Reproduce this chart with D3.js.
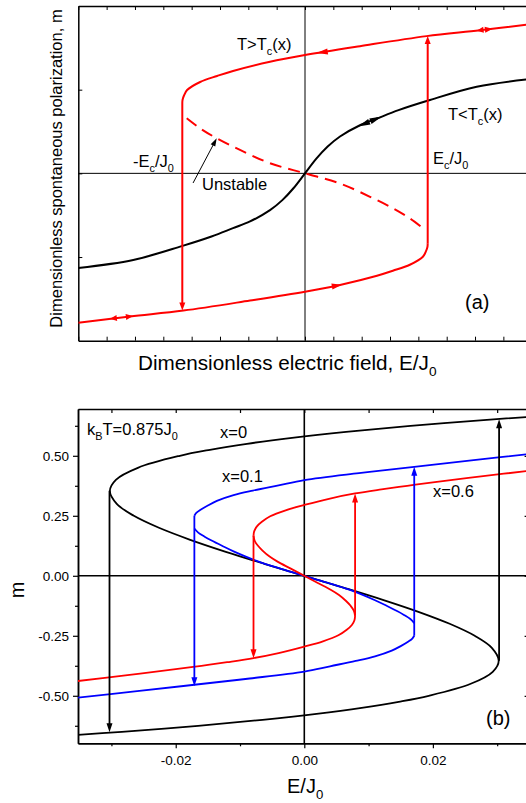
<!DOCTYPE html>
<html><head><meta charset="utf-8">
<script src="https://cdn.jsdelivr.net/npm/d3@7"></script>
<style>
body{margin:0;background:#fff}
svg{display:block;font-family:Arial,"Liberation Sans",Helvetica,sans-serif}
</style>
</head><body>
<svg id="c" width="526" height="803"></svg>
<script>
// ---------- Panel (a): dimensionless units (no numeric tick labels) ----------
const aTicksE = [-8,-7,-6,-5,-4,-3,-2,-1,0,1,2,3,4,5,6,7,8];
const aTicksM = [-1,0,1];
// T>Tc(x) hysteresis, upper stable branch
const aUpperE = [-4.33,-4.32,-4.27,-4.16,-3.70,-3.10,-2.54,-1.235,0,1.94,4.29,6.175,8.0];
const aUpperM = [0.84,0.88,0.93,0.996,1.092,1.164,1.224,1.334,1.414,1.52,1.64,1.71,1.785];
// lower stable branch
const aLowerE = [-8.0,-6.175,-4.29,-1.94,0,1.235,2.54,3.10,3.70,4.16,4.27,4.32,4.33];
const aLowerM = [-1.785,-1.71,-1.64,-1.52,-1.414,-1.334,-1.224,-1.164,-1.092,-0.996,-0.93,-0.88,-0.84];
// unstable (dashed) branch
const aUnstE = [-4.174,-3.705,-3.116,-2.294,-1.235,0,1.235,2.294,3.116,3.705,4.174];
const aUnstM = [0.658,0.539,0.419,0.280,0.121,0,-0.121,-0.280,-0.419,-0.539,-0.658];
// T<Tc(x) single-valued curve
const aBlackE = [-8,-6.06,-4.35,-3.3,-2.54,-1.94,-1.235,-0.8,-0.4,0,0.4,0.8,1.235,1.94,2.54,3.3,4.35,6.06,8];
const aBlackM = [-1.13,-1.035,-0.87,-0.755,-0.655,-0.575,-0.44,-0.32,-0.175,0,0.175,0.32,0.44,0.575,0.655,0.755,0.87,1.035,1.13];
// jump arrows (E, from m, to m)
const aJumps = [[-4.33, 0.84, -1.64], [4.33, -0.84, 1.64]];
// arrowheads on curves: [tailE, tailM, tipE, tipM, colour]
const aHeads = [
  [0.80, 1.457, 0.41, 1.437, "red"],
  [6.30, 1.715, 6.06, 1.705, "red"],
  [6.35, 1.717, 6.62, 1.728, "red"],
  [0.95, -1.352, 1.30, -1.33, "red"],
  [-6.64, -1.728, -6.88, -1.738, "red"],
  [-6.32, -1.716, -6.07, -1.706, "red"],
  [2.27, 0.617, 1.88, 0.56, "black"],
  [2.31, 0.622, 2.71, 0.678, "black"]
];
const aPointer = [-3.95, -0.115, -3.116, 0.419];

// ---------- Panel (b): kBT = 0.875 J0 ----------
const bTicksMajX = [-0.02, 0, 0.02];
const bTicksMinX = [-0.03, -0.01, 0.01, 0.03];
const bTickLabX = ["-0.02", "0.00", "0.02"];
const bTicksMajY = [-0.5, -0.25, 0, 0.25, 0.5];
const bTicksMinY = [-0.625, -0.375, -0.125, 0.125, 0.375, 0.625];
const bTickLabY = ["-0.50", "-0.25", "0.00", "0.25", "0.50"];
// x = 0 (black) full S-curve [E, m]
const bBlack = [[-0.0365,-0.665],[-0.02839,-0.65],[-0.01652,-0.625],[-0.0065,-0.6],[0.00191,-0.575],[0.00892,-0.55],[0.01468,-0.525],[0.01936,-0.5],[0.02589,-0.45],[0.02931,-0.4],[0.03024,-0.3536],[0.02917,-0.3],[0.02651,-0.25],[0.02261,-0.2],[0.01775,-0.15],[0.01221,-0.1],[0.00621,-0.05],[0,0],[-0.00621,0.05],[-0.01221,0.1],[-0.01775,0.15],[-0.02261,0.2],[-0.02651,0.25],[-0.02917,0.3],[-0.03024,0.3536],[-0.02931,0.4],[-0.02589,0.45],[-0.01936,0.5],[-0.01468,0.525],[-0.00892,0.55],[-0.00191,0.575],[0.0065,0.6],[0.01652,0.625],[0.02839,0.65],[0.0365,0.665]];
// x = 0.1 (blue)
const bBlueUpper = [[-0.0171,0.25],[-0.0168,0.262],[-0.0162,0.274],[-0.0150,0.293],[-0.0136,0.312],[-0.0110,0.336],[-0.0080,0.355],[-0.0040,0.377],[0,0.399],[0.0085,0.428],[0.0171,0.454],[0.0260,0.481],[0.0360,0.510]];
const bBlueMid = [[-0.0171,0.197],[-0.0165,0.18],[-0.0155,0.163],[-0.0145,0.148],[-0.0128,0.125],[-0.0110,0.102],[-0.0070,0.058],[-0.0035,0.028],[0,0],[0.0035,-0.028],[0.0070,-0.058],[0.0110,-0.102],[0.0128,-0.125],[0.0145,-0.148],[0.0155,-0.163],[0.0165,-0.18],[0.0171,-0.197]];
const bBlueLower = [[-0.0360,-0.510],[-0.0260,-0.481],[-0.0171,-0.454],[-0.0085,-0.428],[0,-0.399],[0.0040,-0.377],[0.0080,-0.355],[0.0110,-0.336],[0.0136,-0.312],[0.0150,-0.293],[0.0162,-0.274],[0.0168,-0.262],[0.0171,-0.25]];
// x = 0.6 (red)
const bRedUpper = [[-0.0079,0.167],[-0.0078,0.185],[-0.0074,0.205],[-0.0066,0.225],[-0.0053,0.248],[-0.0029,0.273],[0,0.295],[0.0040,0.322],[0.0079,0.343],[0.0120,0.360],[0.0160,0.375],[0.0200,0.389],[0.0275,0.414],[0.0360,0.441]];
const bRedMid = [[-0.0079,0.167],[-0.0077,0.145],[-0.0072,0.125],[-0.0065,0.105],[-0.0054,0.08],[-0.0041,0.058],[-0.0021,0.03],[0,0],[0.0021,-0.03],[0.0041,-0.058],[0.0054,-0.08],[0.0065,-0.105],[0.0072,-0.125],[0.0077,-0.145],[0.0079,-0.167]];
const bRedLower = [[-0.0360,-0.441],[-0.0275,-0.414],[-0.0200,-0.389],[-0.0160,-0.375],[-0.0120,-0.360],[-0.0079,-0.343],[-0.0040,-0.322],[0,-0.295],[0.0029,-0.273],[0.0053,-0.248],[0.0066,-0.225],[0.0074,-0.205],[0.0078,-0.185],[0.0079,-0.167]];
// jump arrows: [E, from m, to m, colour]
const bJumps = [
  [-0.0303, 0.354, -0.652, "black"],
  [-0.0171, 0.25, -0.46, "blue"],
  [-0.0079, 0.167, -0.344, "red"],
  [0.0079, -0.167, 0.343, "red"],
  [0.0171, -0.25, 0.454, "blue"],
  [0.0303, -0.354, 0.652, "black"]
];

const RED = "#ff0000", BLUE = "#0000ff";
const col = c => c === "red" ? RED : c === "blue" ? BLUE : "#000";
const svg = d3.select("#c");
const defs = svg.append("defs");

function head(g, tip, from, L, w, color) {
  const dx = tip[0]-from[0], dy = tip[1]-from[1];
  const d = Math.hypot(dx, dy), ux = dx/d, uy = dy/d;
  const bx = tip[0]-ux*L, by = tip[1]-uy*L;
  g.append("path")
    .attr("d", `M${tip[0]},${tip[1]}L${bx-uy*w},${by+ux*w}L${bx+uy*w},${by-ux*w}Z`)
    .attr("fill", color).attr("stroke", "none");
}

// ================= Panel (a) =================
const aX = d3.scaleLinear().domain([-8, 8]).range([78.3, 531.7]);
const aY = d3.scaleLinear().domain([-2, 2]).range([340.7, 6]);
defs.append("clipPath").attr("id","clipA").append("rect")
  .attr("x", aX(-8)).attr("y", aY(2)).attr("width", aX(8)-aX(-8)).attr("height", aY(-2)-aY(2));
const gA = svg.append("g");
const lineA = d3.line().x(d=>aX(d[0])).y(d=>aY(d[1])).curve(d3.curveCatmullRom.alpha(0.5));

// zero lines
gA.append("line").attr("x1", aX(-8)).attr("x2", aX(8)).attr("y1", aY(0)).attr("y2", aY(0)).attr("stroke","#000").attr("stroke-width",1);
gA.append("line").attr("x1", aX(0)).attr("x2", aX(0)).attr("y1", aY(2)).attr("y2", aY(-2)).attr("stroke","#000").attr("stroke-width",1);

// axes (ticks inward)
const axA = [
  gA.append("g").attr("transform",`translate(0,${aY(2)})`).call(d3.axisTop(aX).tickValues(aTicksE).tickSize(-4).tickSizeOuter(0).tickFormat("")),
  gA.append("g").attr("transform",`translate(0,${aY(-2)})`).call(d3.axisBottom(aX).tickValues(aTicksE).tickSize(-4).tickSizeOuter(0).tickFormat("")),
  gA.append("g").attr("transform",`translate(${aX(-8)},0)`).call(d3.axisLeft(aY).tickValues(aTicksM).tickSize(-4).tickSizeOuter(0).tickFormat("")),
  gA.append("g").attr("transform",`translate(${aX(8)},0)`).call(d3.axisRight(aY).tickValues(aTicksM).tickSize(-4).tickSizeOuter(0).tickFormat(""))
];
axA.forEach(a => { a.select(".domain").attr("stroke-width",1.5); a.selectAll(".tick line").attr("stroke-width",1); });

const cA = gA.append("g").attr("clip-path","url(#clipA)");
cA.append("path").attr("d", lineA(d3.zip(aBlackE, aBlackM))).attr("fill","none").attr("stroke","#000").attr("stroke-width",2);
cA.append("path").attr("d", lineA(d3.zip(aUpperE, aUpperM))).attr("fill","none").attr("stroke",RED).attr("stroke-width",2);
cA.append("path").attr("d", lineA(d3.zip(aLowerE, aLowerM))).attr("fill","none").attr("stroke",RED).attr("stroke-width",2);
cA.append("path").attr("d", lineA(d3.zip(aUnstE, aUnstM))).attr("fill","none").attr("stroke",RED).attr("stroke-width",2).attr("stroke-dasharray","12,7");
aJumps.forEach(j => {
  const x = aX(j[0]), y1 = aY(j[1]), y2 = aY(j[2]);
  const dir = Math.sign(y2 - y1);
  cA.append("line").attr("x1",x).attr("x2",x).attr("y1",y1).attr("y2",y2 - dir*6).attr("stroke",RED).attr("stroke-width",2);
  head(cA, [x, y2], [x, y1], 8, 3, RED);
});
aHeads.forEach(h => head(cA, [aX(h[2]), aY(h[3])], [aX(h[0]), aY(h[1])], Math.hypot(aX(h[2])-aX(h[0]), aY(h[3])-aY(h[1])), 3, col(h[4])));
// pointer to unstable branch
{
  const t = [aX(aPointer[0]), aY(aPointer[1])], p = [aX(aPointer[2]), aY(aPointer[3])];
  const d = Math.hypot(p[0]-t[0], p[1]-t[1]);
  cA.append("line").attr("x1",t[0]).attr("y1",t[1]).attr("x2",p[0]-(p[0]-t[0])/d*6).attr("y2",p[1]-(p[1]-t[1])/d*6).attr("stroke","#000").attr("stroke-width",1);
  head(cA, p, t, 8, 2.6, "#000");
}

// texts with subscripts
function sub(g, x, y, parts, fs) {
  const t = g.append("text").attr("x", x).attr("y", y).attr("font-size", fs);
  parts.forEach(p => {
    if (p[1] === "s") t.append("tspan").text(p[0]).attr("font-size", fs*0.66).attr("dy", fs*0.3);
    else if (p[1] === "n") t.append("tspan").text(p[0]).attr("dy", -fs*0.3);
    else t.append("tspan").text(p[0]);
  });
  return t;
}
sub(gA, 237, 50, [["T>T"],["c","s"],["(x)","n"]], 16.5);
sub(gA, 448, 120, [["T<T"],["c","s"],["(x)","n"]], 16.5);
sub(gA, 433, 164, [["E"],["c","s"],["/J","n"],["0","s"]], 16.5);
sub(gA, 133, 167, [["-E"],["c","s"],["/J","n"],["0","s"]], 16.5);
gA.append("text").attr("x",202).attr("y",190).attr("font-size",16.5).text("Unstable");
gA.append("text").attr("x",465).attr("y",309).attr("font-size",20).text("(a)");
gA.append("text").attr("transform","translate(62,168.5) rotate(-90)").attr("text-anchor","middle").attr("font-size",16.5)
  .text("Dimensionless spontaneous polarization, m");
sub(gA, 138, 370, [["Dimensionless electric field, E/J"],["0","s"]], 20.7);

// ================= Panel (b) =================
const bX = d3.scaleLinear().domain([-0.0352, 0.0352]).range([78, 530.6]);
const bY = d3.scaleLinear().domain([-0.698, 0.695]).range([743.3, 409]);
defs.append("clipPath").attr("id","clipB").append("rect")
  .attr("x", bX.range()[0]).attr("y", bY.range()[1]).attr("width", bX.range()[1]-bX.range()[0]).attr("height", bY.range()[0]-bY.range()[1]);
const gB = svg.append("g");
const lineB = d3.line().x(d=>bX(d[0])).y(d=>bY(d[1])).curve(d3.curveCatmullRom.alpha(0.5));
const xL = bX.range()[0], xR = bX.range()[1], yT = bY.range()[1], yB = bY.range()[0];

gB.append("line").attr("x1", xL).attr("x2", xR).attr("y1", bY(0)).attr("y2", bY(0)).attr("stroke","#000").attr("stroke-width",1.6);
gB.append("line").attr("x1", bX(0)).attr("x2", bX(0)).attr("y1", yT).attr("y2", yB).attr("stroke","#000").attr("stroke-width",1.6);

const fmtX = d => bTickLabX[bTicksMajX.indexOf(d)];
const fmtY = d => bTickLabY[bTicksMajY.indexOf(d)];
const axB = [
  gB.append("g").attr("transform",`translate(0,${yB})`).call(d3.axisBottom(bX).tickValues(bTicksMajX).tickSize(5).tickSizeOuter(0).tickPadding(7).tickFormat(fmtX)),
  gB.append("g").attr("transform",`translate(0,${yB})`).call(d3.axisBottom(bX).tickValues(bTicksMinX).tickSize(3).tickSizeOuter(0).tickFormat("")),
  gB.append("g").attr("transform",`translate(0,${yT})`).call(d3.axisTop(bX).tickValues(bTicksMajX.concat(bTicksMinX)).tickSize(-4).tickSizeOuter(0).tickFormat("")),
  gB.append("g").attr("transform",`translate(${xL},0)`).call(d3.axisLeft(bY).tickValues(bTicksMajY).tickSize(5).tickSizeOuter(0).tickPadding(4).tickFormat(fmtY)),
  gB.append("g").attr("transform",`translate(${xL},0)`).call(d3.axisLeft(bY).tickValues(bTicksMinY).tickSize(3).tickSizeOuter(0).tickFormat("")),
  gB.append("g").attr("transform",`translate(${xR},0)`).call(d3.axisRight(bY).tickValues(bTicksMajY).tickSize(-6).tickSizeOuter(0).tickFormat(""))
];
axB.forEach(a => {
  a.select(".domain").attr("stroke-width",1.5);
  a.selectAll(".tick line").attr("stroke-width",1.2);
  a.selectAll(".tick text").attr("font-size",13.5).attr("font-family","Arial, 'Liberation Sans', sans-serif").attr("fill","#000");
});

const cB = gB.append("g").attr("clip-path","url(#clipB)");
const curves = [[bBlack,"#000"],[bBlueUpper,BLUE],[bBlueMid,BLUE],[bBlueLower,BLUE],[bRedUpper,RED],[bRedMid,RED],[bRedLower,RED]];
curves.forEach(c => cB.append("path").attr("d", lineB(c[0])).attr("fill","none").attr("stroke",c[1]).attr("stroke-width",1.8));
bJumps.forEach(j => {
  const x = bX(j[0]), y1 = bY(j[1]), y2 = bY(j[2]);
  const dir = Math.sign(y2 - y1);
  cB.append("line").attr("x1",x).attr("x2",x).attr("y1",y1).attr("y2",y2 - dir*7).attr("stroke",col(j[3])).attr("stroke-width",1.8);
  head(cB, [x, y2], [x, y1], 9, 3, col(j[3]));
});

sub(gB, 87, 435, [["k"],["B","s"],["T=0.875J","n"],["0","s"]], 16.5);
gB.append("text").attr("x",220).attr("y",438).attr("font-size",16.5).text("x=0");
gB.append("text").attr("x",222).attr("y",482).attr("font-size",16.5).text("x=0.1");
gB.append("text").attr("x",433).attr("y",497).attr("font-size",16.5).text("x=0.6");
gB.append("text").attr("x",486).attr("y",725).attr("font-size",20).text("(b)");
gB.append("text").attr("transform","translate(24,590) rotate(-90)").attr("text-anchor","middle").attr("font-size",20).text("m");
sub(gB, 287, 793, [["E/J"],["0","s"]], 20);
</script>
</body></html>
